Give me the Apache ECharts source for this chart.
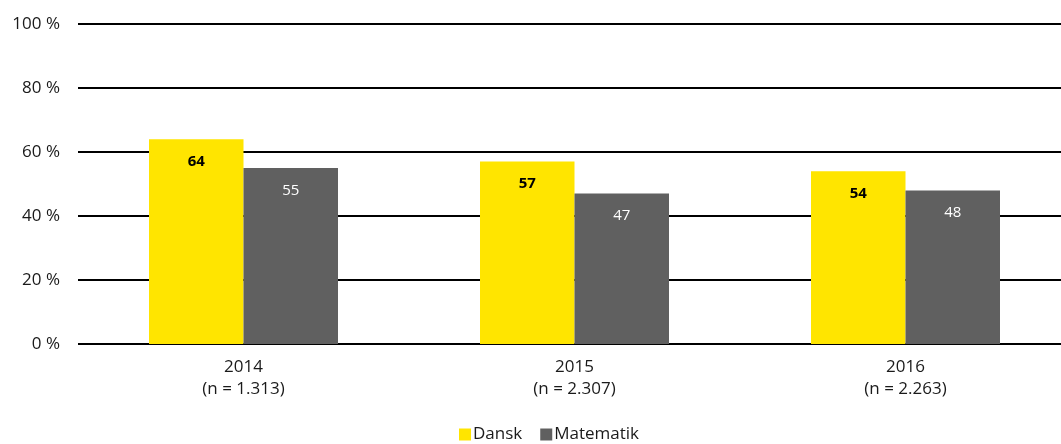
<!DOCTYPE html>
<html>
<head>
<meta charset="utf-8">
<script src="https://cdn.jsdelivr.net/npm/echarts@6/dist/echarts.min.js"></script>
<style>
  html, body { margin: 0; padding: 0; background: #fff; overflow: hidden; }
  /* plot runs slightly past the right edge in the original */
  #chart { width: 1071px; height: 444px; }
</style>
</head>
<body>
<div id="chart"></div>
<script>
const years = ['2014', '2015', '2016']
const counts = ['1.313', '2.307', '2.263']
const dansk = [64, 57, 54]
const matematik = [55, 47, 48]

const categories = years.map((y, i) => y + '\n(n = ' + counts[i] + ')')
const font = '"Open Sans", "Noto Sans", sans-serif'

const chart = echarts.init(document.getElementById('chart'))
chart.setOption({
  animation: false,
  textStyle: { fontFamily: font },
  grid: {
    left: 78,
    right: 0,
    top: 24,
    bottom: 100,
    containLabel: false
  },
  legend: {
    bottom: -4,
    left: 454,
    itemWidth: 12,
    itemHeight: 12,
    itemGap: 18,
    icon: 'rect',
    textStyle: { fontSize: 17, color: '#1a1a1a', padding: [0, 0, 0, -3] },
    data: ['Dansk', 'Matematik']
  },
  xAxis: {
    type: 'category',
    data: categories,
    axisLine: { show: false },
    axisTick: { show: false },
    axisLabel: {
      fontSize: 17,
      color: '#1a1a1a',
      lineHeight: 22,
      margin: 12
    }
  },
  yAxis: {
    type: 'value',
    min: 0,
    max: 100,
    interval: 20,
    axisLine: { show: false },
    axisTick: { show: false },
    axisLabel: {
      formatter: '{value} %',
      fontSize: 17,
      color: '#1a1a1a',
      margin: 18
    },
    splitLine: {
      lineStyle: { color: '#000', width: 2 }
    }
  },
  series: [
    {
      name: 'Dansk',
      type: 'bar',
      data: dansk,
      barWidth: 94.5,
      barGap: '0%',
      z: 3,
      itemStyle: { color: '#FFE500' },
      label: {
        show: true,
        position: 'insideTop',
        distance: 15,
        fontSize: 15,
        fontWeight: 'bold',
        color: '#000'
      }
    },
    {
      name: 'Matematik',
      type: 'bar',
      data: matematik,
      barWidth: 94.5,
      z: 3,
      itemStyle: { color: '#606060' },
      label: {
        show: true,
        position: 'insideTop',
        distance: 15,
        fontSize: 15,
        color: '#fff'
      }
    }
  ]
})
</script>
</body>
</html>
